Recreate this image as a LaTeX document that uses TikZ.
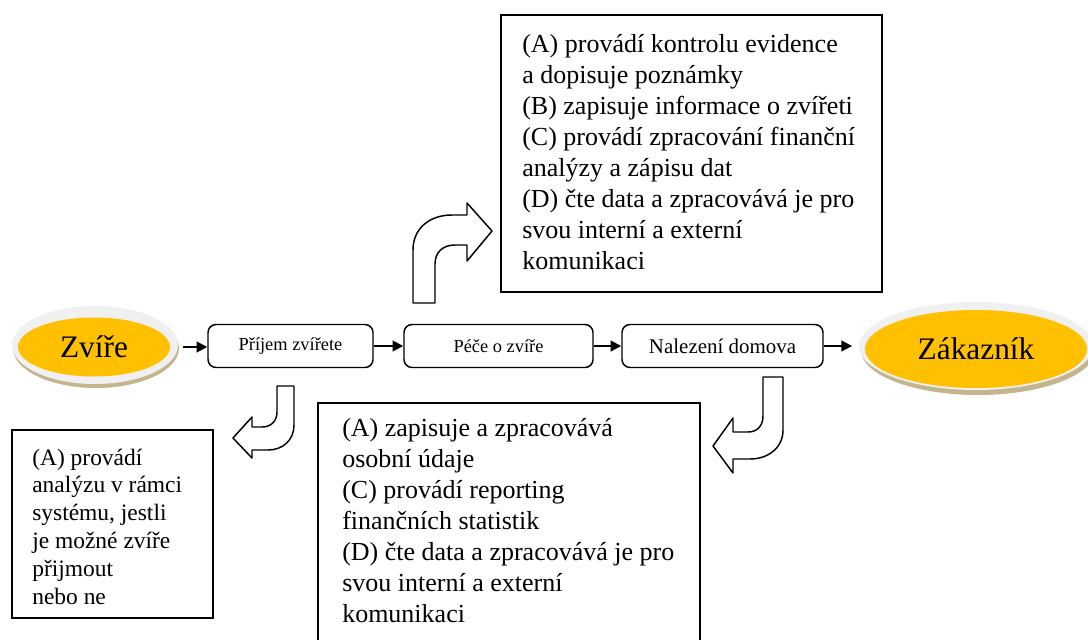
\documentclass[tikz,border=0pt]{standalone}
\usepackage{fontspec}
\setmainfont{Liberation Serif}
\usetikzlibrary{arrows.meta,shapes.geometric,calc}
\definecolor{gold}{HTML}{FFC000}
\definecolor{rim}{HTML}{F0F0F0}
\definecolor{rimshadow}{HTML}{C4B58E}

\begin{document}
\begin{tikzpicture}[x=0.75pt,y=-0.75pt,
		stepbox/.style={draw,line width=1.1pt,rounded corners=6pt,inner sep=0pt,minimum height={43*0.75pt}},
		infobox/.style={draw,line width=1.1pt,inner sep=0pt},
		infotext/.style={anchor=north west,inner sep=0pt,align=left,font=\fontsize{19.5pt}{23.25pt}\selectfont},
		endpoint/.style={ellipse,fill=gold,inner sep=0pt,font=\fontsize{23.5pt}{28pt}\selectfont},
		flow/.style={line width=1.5pt,-{Triangle[length=8pt,width=8pt]}},
		bent/.style={draw,fill=white,line width=1.1pt,line join=round}]
	\useasboundingbox (0,0) rectangle (1088,639);
	
	% Define the centres of the two end ovals
	\coordinate (zvireC) at (94,347);
	\coordinate (zakaznikC) at (976,349);
	
	% Draw the raised rims of the ovals
	\fill[rimshadow] ($(zvireC)+(2,1)$) ellipse [x radius={83*0.75pt}, y radius={40*0.75pt}];
	\fill[rim] ($(zvireC)+(1,-2)$) ellipse [x radius={83*0.75pt}, y radius={39*0.75pt}];
	\fill[rimshadow] ($(zakaznikC)+(2,1)$) ellipse [x radius={117*0.75pt}, y radius={45*0.75pt}];
	\fill[rim] ($(zakaznikC)+(0,-3)$) ellipse [x radius={117*0.75pt}, y radius={44*0.75pt}];
	
	\node[endpoint,minimum width={152*0.75pt},minimum height={59*0.75pt}] (zvire) at (zvireC) {Zvíře};
	\node[endpoint,minimum width={222*0.75pt},minimum height={78*0.75pt}] (zakaznik) at (zakaznikC) {Zákazník};
	
	% Steps of the process
	\node[stepbox,minimum width={165*0.75pt},font=\fontsize{13.8pt}{16pt}\selectfont] (prijem) at (290.5,346) {Příjem zvířete};
	\node[stepbox,minimum width={189*0.75pt},font=\fontsize{13.8pt}{16pt}\selectfont] (pece) at (498.5,346) {Péče o zvíře};
	\node[stepbox,minimum width={201*0.75pt},font=\fontsize{15.7pt}{18pt}\selectfont] (domov) at (722.5,346) {Nalezení domova};
	
	\draw[flow,shorten <=9.5pt] (zvire.east) -- (zvire.east -| prijem.west);
	\draw[flow] (prijem) -- (pece);
	\draw[flow] (pece) -- (domov);
	\draw[flow,shorten >=9.5pt] (domov.east) -- (domov.east -| zakaznik.west);
	
	% Boxes with the notes
	\node[infobox,minimum width={381*0.75pt},minimum height={277*0.75pt}] (infoTop) at (691.5,153.5) {};
	\node[infobox,minimum width={382*0.75pt},minimum height={250*0.75pt}] (infoRight) at (509,528) {};
	\node[infobox,minimum width={201*0.75pt},minimum height={188*0.75pt}] (infoLeft) at (112.5,524) {};
	
	\node[infotext] (noteTop) at (522,34) {(A) provádí kontrolu evidence\\a dopisuje poznámky\\(B) zapisuje informace o zvířeti\\(C) provádí zpracování finanční\\analýzy a zápisu dat\\(D) čte data a zpracovává je pro\\svou interní a externí\\komunikaci};
	\node[infotext] (noteRight) at (342,418) {(A) zapisuje a zpracovává\\osobní údaje\\(C) provádí reporting\\finančních statistik\\(D) čte data a zpracovává je pro\\svou interní a externí\\komunikaci};
	\node[infotext,font=\fontsize{17.6pt}{20.85pt}\selectfont] (noteLeft) at (32,448.5) {(A) provádí\\analýzu v rámci\\systému, jestli\\je možné zvíře\\přijmout\\nebo ne};
	
	% Bent arrows
	\draw[bent] (413,303) -- (413,250) .. controls (413,228) and (430,215) .. (452,215) -- (467,215) -- (467,203) -- (492,231) -- (467,261) -- (467,245) -- (455,245) .. controls (443,245) and (435,252) .. (435,264) -- (435,303) -- cycle;
	\draw[bent] (277,386) -- (294,386) -- (294,425) .. controls (294,440) and (283,450) .. (268,450) -- (252,450) -- (252,458) -- (233,438) -- (252,417) -- (252,427) -- (262,427) .. controls (271,427) and (277,421) .. (277,412) -- cycle;
	\draw[bent] (763,377) -- (783,377) -- (783,430) .. controls (783,448) and (768,459) .. (750,459) -- (733,459) -- (733,473) -- (713,446) -- (733,418) -- (733,432) -- (748,432) .. controls (757,432) and (763,426) .. (763,416) -- cycle;
\end{tikzpicture}
\end{document}
